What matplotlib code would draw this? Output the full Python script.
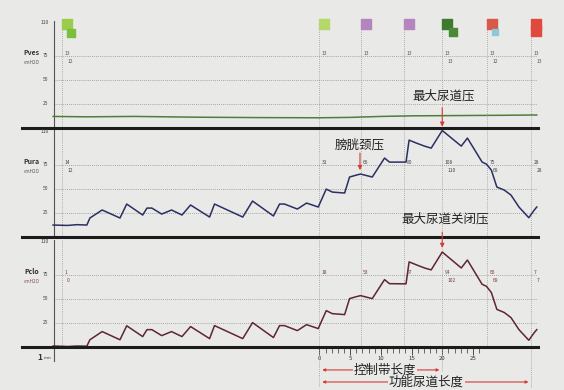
import matplotlib
matplotlib.use("Agg")
import matplotlib.pyplot as plt

plt.rcParams['font.family'] = ['Noto Sans CJK SC', 'DejaVu Sans']

# ---------------- data (x in mm along the urethra, pressures in cmH2O) -------------
pos_x = [-43.4, -41.0, -39.5, -37.9, -37.4, -35.4, -32.5, -31.4, -28.8, -28.1, -27.3,
         -25.7, -24.1, -22.4, -21.0, -17.9, -17.1, -12.5, -10.9, -7.5, -6.5, -5.7,
         -3.6, -2.1, -0.2, 1.1, 2.1, 4.1, 4.9, 6.0, 6.7, 8.6, 10.6, 11.4, 14.1, 14.6,
         15.8, 17.1, 18.2, 20.0, 23.1, 24.1, 25.5, 26.5, 27.2, 28.0, 28.9, 30.1, 31.2,
         32.5, 34.1, 35.0, 35.4]
pura = [12.4, 12.0, 12.8, 12.4, 19.7, 28.0, 19.7, 34.2, 22.8, 30.0, 30.0,
        23.8, 28.0, 22.8, 33.2, 20.7, 34.2, 20.7, 37.3, 21.8, 34.2, 34.2,
        29.0, 35.2, 31.1, 49.7, 46.6, 45.6, 62.2, 64.2, 65.3, 62.2, 81.9, 77.7, 77.7, 100.5,
        97.4, 94.3, 92.2, 110.5, 94.3, 102.6, 88.1, 77.7, 75.6, 69.4, 51.8, 48.7, 43.5,
        31.1, 20.0, 28.0, 31.1]
pclo = [1.0, 0.5, 1.0, 0.8, 7.5, 16.0, 7.5, 22.0, 10.8, 18.0, 18.0,
        11.8, 16.0, 10.8, 21.2, 8.7, 22.2, 8.7, 25.3, 9.8, 22.2, 22.2,
        17.0, 23.2, 19.1, 37.7, 34.6, 33.6, 50.2, 52.2, 53.3, 50.2, 69.9, 65.7, 65.5, 88.3,
        85.2, 82.0, 80.0, 98.5, 82.0, 90.2, 75.5, 65.0, 63.0, 56.5, 39.0, 35.8, 30.5,
        18.0, 7.0, 15.0, 18.0]
pves_x = [-43.4, -38, -30, -20, -10, 0, 5, 10, 15, 20, 25, 30, 35.4]
pves = [12.0, 11.6, 12.0, 11.2, 10.8, 10.6, 11.0, 12.0, 12.6, 12.8, 13.0, 13.2, 13.5]

markers = [-42.0, 0.0, 6.7, 13.8, 20.0, 27.3, 34.5]
pves_vals = [("13", "12"), ("13", ""), ("13", ""), ("13", ""), ("13", "13"), ("13", "12"), ("13", "13")]
pura_vals = [("14", "12"), ("31", ""), ("66", ""), ("80", ""), ("108", "110"), ("75", "69"), ("28", "28")]
pclo_vals = [("1", "0"), ("18", ""), ("53", ""), ("67", ""), ("94", "102"), ("65", "69"), ("7", "7")]
flag_colors = ['#9acd4a', '#b5d86a', '#b585c0', '#b585c0', '#3e7a2e', '#d8584a', '#e04a3e']

ruler_major = [0, 5, 10, 15, 20, 25]
ruler_minor = list(range(0, 27))

# ---------------- layout ----------------
W, H = 564, 390
bg = '#e9e9e7'
fig = plt.figure(figsize=(W / 100, H / 100), dpi=100, facecolor=bg)
X0, X1 = -48.46, 35.6
YAX = -43.25
YMAX = 111

def make_ax(top_py, bot_py):
    ax = fig.add_axes([22 / W, 1 - bot_py / H, 516 / W, (bot_py - top_py) / H])
    ax.set_xlim(X0, X1)
    ax.set_ylim(0, YMAX)
    ax.set_facecolor('none')
    for s in ['top', 'left', 'right']:
        ax.spines[s].set_visible(False)
    ax.spines['bottom'].set_linewidth(2.2)
    ax.spines['bottom'].set_color('#1c1c1c')
    ax.set_yticks([])
    ax.set_xticks([])
    ax.hlines([25, 50, 75], YAX, 35.45, colors='#8e8e8e', linestyles=(0, (1, 1.5)), lw=0.6)
    for m in markers:
        ax.axvline(m, color='#9a9a9a', ls=(0, (1, 1.5)), lw=0.6)
    ax.axvline(YAX, color='#555555', lw=0.8)
    for v in [25, 50, 75]:
        ax.text(YAX - 0.9, v, str(v), ha='right', va='center', fontsize=3.6, color='#444')
    ax.text(YAX - 0.9, YMAX - 2, "110", ha='right', va='center', fontsize=3.6, color='#444')
    return ax

ax1 = make_ax(21, 128)
ax2 = make_ax(130, 237)
ax3 = make_ax(240, 347)

ax1.plot(pves_x, pves, color='#4f7d3a', lw=1.1)
ax2.plot(pos_x, pura, color='#2b2f63', lw=1.1)
ax3.plot(pos_x, pclo, color='#5e2630', lw=1.1)

# panel names
for ax, name, col in [(ax1, 'Pves', '#333'), (ax2, 'Pura', '#333'), (ax3, 'Pclo', '#3a2228')]:
    ax.text(-46.9, 78, name, ha='center', va='center', fontsize=5, fontweight='bold', color=col)
    ax.text(-46.9, 68, 'cmH2O', ha='center', va='center', fontsize=3.3,
            color='#8a4a4a' if name == 'Pclo' else '#555')

# value labels at markers
for ax, vals, col in [(ax1, pves_vals, '#555'), (ax2, pura_vals, '#444'), (ax3, pclo_vals, '#7a3a3a')]:
    for m, (a, b) in zip(markers, vals):
        ax.text(m + 0.4, 77, a, fontsize=3.5, color=col, ha='left', va='center')
        if b:
            ax.text(m + 0.9, 69, b, fontsize=3.5, color=col, ha='left', va='center')

# flags
for m, c in zip(markers, flag_colors):
    ax1.scatter([m + 0.8], [107.5], marker='s', s=42, color=c, clip_on=False, zorder=5)
ax1.scatter([markers[0] + 1.6], [98.5], marker='s', s=38, color='#7cbf3a', clip_on=False, zorder=5)
ax1.scatter([markers[4] + 1.7], [99.5], marker='s', s=38, color='#4a8a35', clip_on=False, zorder=5)
ax1.scatter([markers[5] + 1.3], [99.5], marker='s', s=14, color='#8cc8d8', clip_on=False, zorder=5)
ax1.scatter([markers[6] + 0.8], [100.5], marker='s', s=42, color=flag_colors[6], clip_on=False, zorder=5)

# annotations
red = '#d63a36'
txtc = '#222222'
ax1.text(20.2, 33, '最大尿道压', ha='center', va='center', fontsize=9, color=txtc)
ax1.annotate('', xy=(20, -1.5), xytext=(20, 24),
             arrowprops=dict(arrowstyle='-|>', color=red, lw=0.8, mutation_scale=6),
             annotation_clip=False)
ax2.text(6.6, 95.5, '膀胱颈压', ha='center', va='center', fontsize=9, color=txtc)
ax2.annotate('', xy=(6.6, 66.5), xytext=(6.6, 90),
             arrowprops=dict(arrowstyle='-|>', color=red, lw=0.8, mutation_scale=6),
             annotation_clip=False)
ax2.text(20.4, 18.7, '最大尿道关闭压', ha='center', va='center', fontsize=9, color=txtc)
ax3.annotate('', xy=(20, 100), xytext=(20, 122),
             arrowprops=dict(arrowstyle='-|>', color=red, lw=0.8, mutation_scale=6),
             annotation_clip=False)

# ruler on the bottom axis
ax3.set_xticks(ruler_major)
ax3.set_xticklabels([str(v) for v in ruler_major])
ax3.set_xticks(ruler_minor, minor=True)
ax3.tick_params(axis='x', which='major', length=6, width=0.6, direction='out',
                labelsize=4.3, pad=0.5, colors='#333')
ax3.tick_params(axis='x', which='minor', length=4, width=0.5, direction='out', colors='#333')

# extended axis / guide lines below
ax3.plot([YAX, YAX], [-15, 0], color='#555555', lw=0.8, clip_on=False)
for m, ylow in [(0.0, -40), (20.0, -25), (34.5, -41)]:
    ax3.plot([m, m], [ylow, 0], color='#9a9a9a', ls=(0, (1, 1.5)), lw=0.6, clip_on=False)
ax3.text(-45.6, -10.5, '1', ha='center', va='center', fontsize=6, fontweight='bold', color='#333')
ax3.text(-44.3, -11.5, 'mm', ha='center', va='center', fontsize=3, color='#333')

ax3.annotate('', xy=(0, -23.8), xytext=(20, -23.8),
             arrowprops=dict(arrowstyle='<|-|>', color=red, lw=0.8, mutation_scale=4),
             annotation_clip=False)
ax3.text(10.6, -23.8, '控制带长度', ha='center', va='center', fontsize=9, color=txtc,
         bbox=dict(facecolor=bg, edgecolor='none', pad=0.5))
ax3.annotate('', xy=(0, -36.3), xytext=(34.5, -36.3),
             arrowprops=dict(arrowstyle='<|-|>', color=red, lw=0.8, mutation_scale=4),
             annotation_clip=False)
ax3.text(17.4, -36.3, '功能尿道长度', ha='center', va='center', fontsize=9, color=txtc,
         bbox=dict(facecolor=bg, edgecolor='none', pad=0.5))

fig.savefig('out.png', dpi=100, facecolor=bg)
